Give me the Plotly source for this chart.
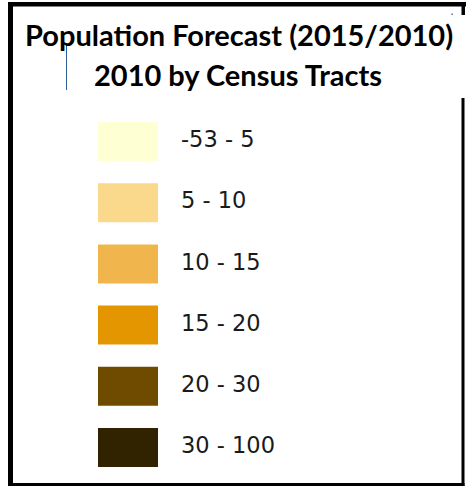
import plotly.graph_objects as go

# ---- data ----
title_line1 = "Population Forecast (2015/2010)"
title_line2 = "2010 by Census Tracts"
class_labels = ["-53 - 5", "5 - 10", "10 - 15", "15 - 20", "20 - 30", "30 - 100"]
class_colors = ["#FFFFD4", "#FAD88C", "#F0B54C", "#E39600", "#6F4B00", "#312200"]

W, H = 466, 490
idx = list(range(len(class_labels)))

# layout constants (pixel geometry)
sw_left, sw_width = 98, 60
first_center, pitch = 141.5, 61.2
sw_height = 39
label_x = 181

fig = go.Figure()

fig.add_trace(go.Bar(
    y=idx, x=[sw_width] * len(idx), base=sw_left, orientation="h",
    width=sw_height / pitch,
    marker=dict(color=class_colors, line=dict(width=0)),
    hoverinfo="skip", showlegend=False,
))

fig.add_trace(go.Scatter(
    y=idx, x=[label_x] * len(idx), mode="text", text=class_labels,
    textposition="middle right",
    textfont=dict(family="DejaVu Sans", size=22.5, color="#1a1a1a"),
    hoverinfo="skip", showlegend=False,
))

y_top = -first_center / pitch
y_bot = (H - first_center) / pitch

fig.update_xaxes(range=[0, W], visible=False, fixedrange=True)
fig.update_yaxes(range=[y_bot, y_top], visible=False, fixedrange=True)

def py(p):
    return 1 - p / H

shapes = []
blk = dict(type="rect", xref="x", yref="paper", fillcolor="#000000", line=dict(width=0), layer="above")
# frame
shapes.append(dict(blk, x0=8, x1=466, y0=py(2), y1=py(6.5)))
shapes.append(dict(blk, x0=8, x1=13, y0=py(2), y1=py(486)))
shapes.append(dict(blk, x0=8, x1=464.5, y0=py(483), y1=py(486)))
shapes.append(dict(blk, x0=461.5, x1=465, y0=py(2), y1=py(15)))
shapes.append(dict(blk, x0=461.5, x1=464.5, y0=py(98), y1=py(486)))
# thin blue stray line and dot
shapes.append(dict(type="line", xref="x", yref="paper", x0=66.5, x1=66.5, y0=py(43), y1=py(90),
                   line=dict(color="#2F5F9A", width=1)))
shapes.append(dict(blk, x0=451.5, x1=452.8, y0=py(13.5), y1=py(15), fillcolor="#2F5F9A"))

annotations = [
    dict(text=f"<b>{title_line1}</b>", x=239, y=py(35), xref="x", yref="paper",
         xanchor="center", yanchor="middle", showarrow=False,
         font=dict(family="Lato", size=29, color="#000000")),
    dict(text=f"<b>{title_line2}</b>", x=238, y=py(74), xref="x", yref="paper",
         xanchor="center", yanchor="middle", showarrow=False,
         font=dict(family="Lato", size=29, color="#000000")),
]

fig.update_layout(
    width=W, height=H, margin=dict(l=0, r=0, t=0, b=0),
    paper_bgcolor="#ffffff", plot_bgcolor="#ffffff",
    shapes=shapes, annotations=annotations, showlegend=False,
)

fig.write_html(
    "out.html",
    config={"displayModeBar": False},
    post_script="document.documentElement.style.overflow='hidden';"
                "document.body.style.margin='0';document.body.style.overflow='hidden';",
)
